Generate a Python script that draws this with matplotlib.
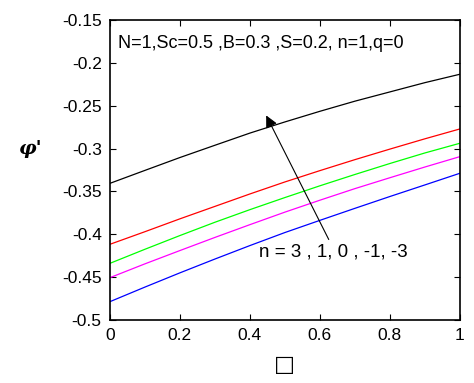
import matplotlib.pyplot as plt

x = [0, 0.1, 0.2, 0.3, 0.4, 0.5, 0.6, 0.7, 0.8, 0.9, 1.0]
colors = ['k', '#ff0000', '#00ff00', '#ff00ff', '#0000ff']
phi_n3 = [-0.3406, -0.3255, -0.3105, -0.2962, -0.2820, -0.2690, -0.2566, -0.2448, -0.2340, -0.2232, -0.2134]
phi_n1 = [-0.4117, -0.3970, -0.3820, -0.3675, -0.3530, -0.3390, -0.3258, -0.3130, -0.3007, -0.2887, -0.2772]
phi_n0 = [-0.4339, -0.4175, -0.4015, -0.3860, -0.3713, -0.3572, -0.3435, -0.3303, -0.3175, -0.3052, -0.2939]
phi_nm1 = [-0.4506, -0.4345, -0.4190, -0.4037, -0.3888, -0.3742, -0.3603, -0.3468, -0.3341, -0.3216, -0.3095]
phi_nm3 = [-0.4786, -0.4616, -0.4450, -0.4289, -0.4132, -0.3980, -0.3838, -0.3698, -0.3560, -0.3425, -0.3289]
phi = [phi_n3, phi_n1, phi_n0, phi_nm1, phi_nm3]

header = 'N=1,Sc=0.5 ,B=0.3 ,S=0.2, n=1,q=0'
n_text = 'n = 3 , 1, 0 , -1, -3'

plt.rcParams['font.family'] = ['Liberation Sans', 'DejaVu Sans']
fig = plt.figure(figsize=(4.74, 3.83), dpi=100)
ax = fig.add_axes([0.232, 0.1645, 0.738, 0.7835])

for ys, c in zip(phi, colors):
    ax.plot(x, ys, color=c, lw=0.9)

ax.set_xlim(0, 1)
ax.set_ylim(-0.5, -0.15)
ax.set_xticks([0, 0.2, 0.4, 0.6, 0.8, 1])
ax.set_xticklabels(['0', '0.2', '0.4', '0.6', '0.8', '1'])
ax.set_yticks([-0.5, -0.45, -0.4, -0.35, -0.3, -0.25, -0.2, -0.15])
ax.set_yticklabels(['-0.5', '-0.45', '-0.4', '-0.35', '-0.3', '-0.25', '-0.2', '-0.15'])
ax.tick_params(direction='in', top=True, right=True, length=4, labelsize=12.5, pad=6)
for s in ax.spines.values():
    s.set_linewidth(1.2)

ax.text(0.023, -0.177, header, fontsize=13, va='center')
ax.annotate('', xy=(0.443, -0.2585), xytext=(0.629, -0.409),
            arrowprops=dict(arrowstyle='-|>', color='k', lw=0.8, mutation_scale=18))
ax.text(0.426, -0.4207, n_text, fontsize=13.5, va='center')

fig.text(0.065, 0.61, "φ'", fontsize=14, fontweight='bold', style='italic',
         family='DejaVu Serif', ha='center', va='center')
fig.text(0.601, 0.047, '□', fontsize=16, family='DejaVu Sans', ha='center', va='center')

fig.savefig('out.png', dpi=100)
